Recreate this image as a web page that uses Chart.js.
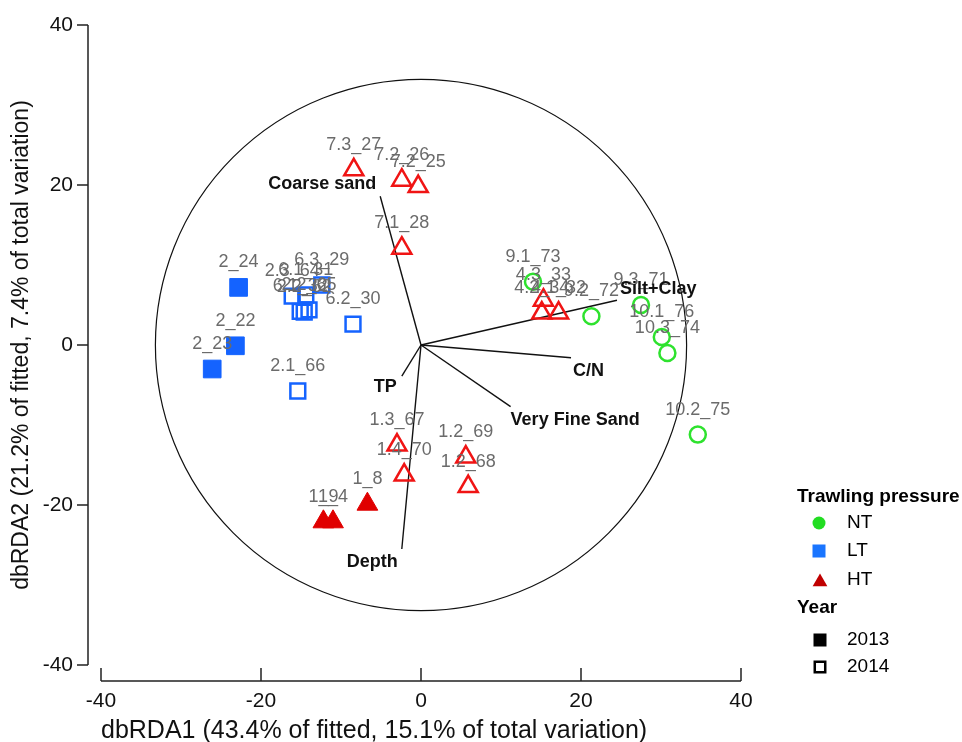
<!DOCTYPE html>
<html>
<head>
<meta charset="utf-8">
<title>dbRDA ordination</title>
<script src="https://cdn.jsdelivr.net/npm/chart.js@4.4.1/dist/chart.umd.min.js"></script>
<style>
  html, body { margin: 0; padding: 0; background: #fff; }
  #wrap { width: 962px; height: 742px; }
</style>
</head>
<body>
<div id="wrap"><canvas id="rda" width="962" height="742"></canvas></div>
<script>
// Site scores on dbRDA1 / dbRDA2, grouped by trawling pressure and year
const ntSites2014 = ['9.1_73', '9.2_72', '9.3_71', '10.1_76', '10.3_74', '10.2_75'];
const ntX2014 = [14.0, 21.3, 27.5, 30.1, 30.8, 34.6];
const ntY2014 = [7.9, 3.6, 5.0, 1.0, -1.0, -11.2];

const ltSites2013 = ['2_24', '2_22', '2_23'];
const ltX2013 = [-22.8, -23.2, -26.1];
const ltY2013 = [7.2, -0.1, -3.0];

const ltSites2014 = ['2.3_64', '6.1_31', '6.1_32', '2.2_62', '2.2_65', '6.3_29', '6.2_30', '2.1_66'];
const ltX2014 = [-16.1, -14.4, -15.1, -14.6, -14.0, -12.4, -8.5, -15.4];
const ltY2014 = [6.1, 6.25, 4.2, 4.1, 4.4, 7.5, 2.6, -5.75];

const htSites2013 = ['1_8', '1_9', '1_4'];
const htX2013 = [-6.7, -12.2, -11.0];
const htY2013 = [-19.9, -22.1, -22.1];

const htSites2014 = ['7.3_27', '7.2_26', '7.2_25', '7.1_28', '4.3_33', '4.2_34', '4.1_32',
                     '1.3_67', '1.4_70', '1.2_69', '1.2_68'];
const htX2014 = [-8.4, -2.4, -0.35, -2.4, 15.3, 15.1, 17.2, -3.0, -2.1, 5.6, 5.9];
const htY2014 = [21.9, 20.6, 19.8, 12.1, 5.6, 4.0, 4.0, -12.5, -16.25, -14.0, -17.7];

// Environmental predictor vectors (tips, same units as the axes)
const vectorNames = ['Coarse sand', 'Silt+Clay', 'C/N', 'Very Fine Sand', 'TP', 'Depth'];
const vectorX = [-5.1, 24.5, 18.75, 11.2, -2.4, -2.4];
const vectorY = [18.6, 5.6, -1.6, -7.7, -3.9, -25.5];

const circleRadius = 33.2;
const xTicks = [-40, -20, 0, 20, 40];
const yTicks = [40, 20, 0, -20, -40];
const xTitle = 'dbRDA1 (43.4% of fitted, 15.1% of total variation)';
const yTitle = 'dbRDA2 (21.2% of fitted, 7.4% of total variation)';

const pressureNames = ['NT', 'LT', 'HT'];
const yearNames = ['2013', '2014'];

// colours
const GREEN = '#2ee22e';
const BLUE = '#1463ff';
const RED = '#f01414';
const RED_FILL = '#e00000';
const CLEAR = 'rgba(0,0,0,0)';
const FONT = 'Arial, "Liberation Sans", sans-serif';

// where each vector name sits relative to its tip
const vectorLabelPlacement = {
  'Coarse sand':    { align: 'right', dx: -4, dy: -12 },
  'Silt+Clay':      { align: 'left',  dx: 3,  dy: -11 },
  'C/N':            { align: 'left',  dx: 2,  dy: 13 },
  'Very Fine Sand': { align: 'left',  dx: 0,  dy: 13 },
  'TP':             { align: 'right', dx: -5, dy: 11 },
  'Depth':          { align: 'right', dx: -4, dy: 13 }
};

function pts(xs, ys) {
  return xs.map((x, i) => ({ x: x, y: ys[i] }));
}

function siteSet(label, xs, ys, names, style, color, filled, radius) {
  return {
    label: label,
    data: pts(xs, ys),
    siteNames: names,
    showLine: false,
    pointStyle: style,
    pointRadius: radius,
    pointHoverRadius: radius,
    pointBorderWidth: filled ? 1 : 2.5,
    pointBorderColor: color,
    pointBackgroundColor: filled ? color : CLEAR
  };
}

const datasets = [
  siteSet('NT 2014', ntX2014, ntY2014, ntSites2014, 'circle', GREEN, false, 8),
  siteSet('LT 2013', ltX2013, ltY2013, ltSites2013, 'rect', BLUE, true, 12.5),
  siteSet('LT 2014', ltX2014, ltY2014, ltSites2014, 'rect', BLUE, false, 10.5),
  siteSet('HT 2013', htX2013, htY2013, htSites2013, 'triangle', RED_FILL, true, 12),
  siteSet('HT 2014', htX2014, htY2014, htSites2014, 'triangle', RED, false, 11)
];

vectorNames.forEach((name, i) => {
  datasets.push({
    label: name,
    vectorName: name,
    data: [{ x: 0, y: 0 }, { x: vectorX[i], y: vectorY[i] }],
    showLine: true,
    borderColor: '#111',
    borderWidth: 1.4,
    pointRadius: 0,
    pointHoverRadius: 0
  });
});

// correlation circle behind everything
const circlePlugin = {
  id: 'circle',
  beforeDatasetsDraw(chart) {
    const { ctx, scales: { x, y } } = chart;
    const cx = x.getPixelForValue(0);
    const cy = y.getPixelForValue(0);
    const r = x.getPixelForValue(circleRadius) - cx;
    ctx.save();
    ctx.beginPath();
    ctx.arc(cx, cy, r, 0, Math.PI * 2);
    ctx.strokeStyle = '#111';
    ctx.lineWidth = 1.2;
    ctx.stroke();
    ctx.restore();
  }
};

// detached axes with inward x ticks and outward y ticks
const axesPlugin = {
  id: 'axes',
  afterDraw(chart) {
    const { ctx, scales: { x, y } } = chart;
    const axisY = chart.chartArea.bottom;
    const axisX = chart.chartArea.left;
    ctx.save();
    ctx.strokeStyle = '#222';
    ctx.lineWidth = 1.5;
    ctx.fillStyle = '#111';
    ctx.font = '21px ' + FONT;

    // x axis
    ctx.beginPath();
    ctx.moveTo(x.getPixelForValue(xTicks[0]), axisY);
    ctx.lineTo(x.getPixelForValue(xTicks[xTicks.length - 1]), axisY);
    xTicks.forEach(v => {
      const px = x.getPixelForValue(v);
      ctx.moveTo(px, axisY);
      ctx.lineTo(px, axisY - 13);
    });
    ctx.stroke();
    ctx.textAlign = 'center';
    ctx.textBaseline = 'middle';
    xTicks.forEach(v => ctx.fillText(String(v), x.getPixelForValue(v), axisY + 20));

    // y axis
    ctx.beginPath();
    ctx.moveTo(axisX, y.getPixelForValue(yTicks[0]));
    ctx.lineTo(axisX, y.getPixelForValue(yTicks[yTicks.length - 1]));
    yTicks.forEach(v => {
      const py = y.getPixelForValue(v);
      ctx.moveTo(axisX, py);
      ctx.lineTo(axisX - 11, py);
    });
    ctx.stroke();
    ctx.textAlign = 'right';
    yTicks.forEach(v => ctx.fillText(String(v), axisX - 15, y.getPixelForValue(v)));

    // titles
    ctx.font = '25px ' + FONT;
    ctx.textAlign = 'left';
    ctx.fillText(xTitle, x.getPixelForValue(xTicks[0]), axisY + 50);
    ctx.font = '23px ' + FONT;
    ctx.textAlign = 'center';
    ctx.translate(22, y.getPixelForValue(0));
    ctx.rotate(-Math.PI / 2);
    ctx.fillText(yTitle, 0, 0);
    ctx.restore();
  }
};

// site names above markers, predictor names at vector tips
const labelPlugin = {
  id: 'labels',
  afterDatasetsDraw(chart) {
    const ctx = chart.ctx;
    ctx.save();
    ctx.textBaseline = 'middle';
    chart.data.datasets.forEach((ds, i) => {
      const meta = chart.getDatasetMeta(i);
      if (ds.siteNames) {
        ctx.font = '18px ' + FONT;
        ctx.fillStyle = '#6b6b6b';
        ctx.textAlign = 'center';
        meta.data.forEach((el, j) => ctx.fillText(ds.siteNames[j], el.x, el.y - 25));
      } else if (ds.vectorName) {
        const tip = meta.data[1];
        const place = vectorLabelPlacement[ds.vectorName];
        ctx.font = 'bold 18px ' + FONT;
        ctx.fillStyle = '#111';
        ctx.textAlign = place.align;
        ctx.fillText(ds.vectorName, tip.x + place.dx, tip.y + place.dy);
      }
    });
    ctx.restore();
  }
};

function marker(ctx, style, radius, fill, stroke, width, px, py) {
  ctx.fillStyle = fill;
  ctx.strokeStyle = stroke;
  ctx.lineWidth = width;
  Chart.helpers.drawPoint(ctx, { pointStyle: style, radius: radius, rotation: 0, borderWidth: width }, px, py);
}

// two-part key on the right
const keyPlugin = {
  id: 'key',
  afterDraw(chart) {
    const ctx = chart.ctx;
    const left = 797, mx = 820, tx = 847;
    ctx.save();
    ctx.textBaseline = 'middle';
    ctx.textAlign = 'left';
    ctx.fillStyle = '#000';
    ctx.font = 'bold 19px ' + FONT;
    ctx.fillText('Trawling pressure', left, 497);
    ctx.fillText('Year', left, 608);

    const rows = [523, 551, 580];
    marker(ctx, 'circle', 6.5, '#22dd22', '#22dd22', 0, mx - 1, rows[0]);
    marker(ctx, 'rect', 9.2, '#1a75ff', '#1a75ff', 0, mx - 1, rows[1]);
    marker(ctx, 'triangle', 8.5, '#c00000', '#c00000', 0, mx, rows[2] + 2);
    marker(ctx, 'rect', 9.2, '#000', '#000', 0, mx, 640);
    marker(ctx, 'rect', 7.4, '#fff', '#000', 2.5, mx, 667);

    ctx.fillStyle = '#000';
    ctx.font = '19px ' + FONT;
    pressureNames.forEach((n, i) => ctx.fillText(n, tx, rows[i]));
    yearNames.forEach((n, i) => ctx.fillText(n, tx, [640, 667][i]));
    ctx.restore();
  }
};

new Chart(document.getElementById('rda'), {
  type: 'scatter',
  data: { datasets: datasets },
  options: {
    responsive: false,
    animation: false,
    events: [],
    layout: { padding: { left: 88, right: 221, top: 25, bottom: 61 } },
    scales: {
      x: { type: 'linear', display: false, min: -41.625, max: 40 },
      y: { type: 'linear', display: false, min: -42, max: 40 }
    },
    plugins: {
      legend: { display: false },
      tooltip: { enabled: false }
    }
  },
  plugins: [circlePlugin, axesPlugin, labelPlugin, keyPlugin]
});
</script>
</body>
</html>
